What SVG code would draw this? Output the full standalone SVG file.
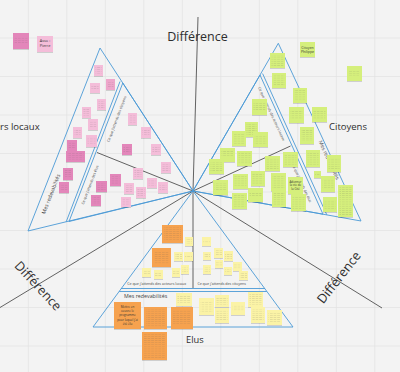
<svg xmlns="http://www.w3.org/2000/svg" width="400" height="372" viewBox="0 0 400 372">
<defs>
<pattern id="grid" x="27.8" y="37.5" width="38.5" height="38.5" patternUnits="userSpaceOnUse"><path d="M0 0.4H38.5M0.4 0V38.5" stroke="#e1e1e1" stroke-width="0.8" fill="none"/></pattern>
<pattern id="tx" width="3.6" height="2.1" patternUnits="userSpaceOnUse"><rect width="2.7" height="0.55" fill="#555"/></pattern>
<filter id="sh" x="-20%" y="-20%" width="140%" height="150%"><feDropShadow dx="0" dy="0.7" stdDeviation="0.6" flood-color="#000" flood-opacity="0.22"/></filter>
<style>
.bg{fill:#f3f3f3}
.ax{stroke:#3c3c3c;stroke-width:0.8;fill:none}
.bl{stroke:#4b9ad6;stroke-width:0.9;fill:none;stroke-linejoin:miter}
.big{font-family:"Open Sans","Liberation Sans",sans-serif;fill:#2e2e2e}
.sm{font-family:"Open Sans","Liberation Sans",sans-serif;fill:#444;font-size:3.6px;text-anchor:middle}
.nt{font-family:"Open Sans","Liberation Sans",sans-serif;fill:#333;text-anchor:middle}
.n rect:first-child{filter:url(#sh)}
.t{fill:url(#tx);opacity:0.2}
.pl rect:first-child{fill:#f4bdd9}
.pm rect:first-child{fill:#eea6cb}
.pd rect:first-child{fill:#e386ba}
.gr rect:first-child{fill:#d5ef7c}
.or rect:first-child{fill:#f6a24f}
.ye rect:first-child{fill:#fbf3a6}
</style>
</defs>
<rect class="bg" width="400" height="372"/>
<rect width="400" height="372" fill="url(#grid)"/>

<g id="connectors">
<path class="ax" d="M198 17L193 191L193 288"/>
<path class="ax" d="M193 191L0 307.5"/>
<path class="ax" d="M193 191L382 308"/>
<path class="ax" d="M97 152.5L193 191"/>
<path class="ax" d="M290.5 146L193 191"/>
</g>

<g id="triangle-acteurs">
<polygon class="bl" points="100,48 28,231 193,191"/>
<polygon class="bl" points="122.8,83 69,221.5 193,191"/>
<path class="bl" d="M120 81.5L66.2 221.8"/>
</g>
<g id="triangle-citoyens">
<polygon class="bl" points="278.3,43.3 193,191 361,221"/>
<polygon class="bl" points="260,75 193,191 323,214.2"/>
<path class="bl" d="M262.6 73.6L326.8 214.8"/>
</g>
<g id="triangle-elus">
<polygon class="bl" points="193,191 93,327 293,327"/>
<path class="bl" d="M121 288.5H265"/>
<path class="bl" d="M119.2 291.5H266.8"/>
</g>

<g id="labels">
<text class="big" x="197.5" y="41" font-size="12.5" text-anchor="middle">Différence</text>
<text class="big" transform="translate(38,286) rotate(47)" y="4.3" font-size="12.8" text-anchor="middle">Différence</text>
<text class="big" transform="translate(339,277.5) rotate(-52)" y="4.3" font-size="12.8" text-anchor="middle">Différence</text>
<text class="big" x="0" y="129.5" font-size="9.5">rs locaux</text>
<text class="big" x="329" y="129.5" font-size="9.5">Citoyens</text>
<text class="big" x="186" y="343" font-size="9.3">Elus</text>
<text class="sm" transform="translate(51,194) rotate(-69)" y="1.8" style="font-size:5.2px">Mes redevabilités</text>
<text class="sm" transform="translate(90,185) rotate(-69)" y="1.2">Ce que j'attends des élus</text>
<text class="sm" transform="translate(116.7,119) rotate(-69.5)" y="1.2">Ce que j'attends des citoyens</text>
<text class="sm" transform="translate(271.5,114) rotate(65)" y="1.2">Ce que j'attends des acteurs locaux</text>
<text class="sm" transform="translate(301.7,183.3) rotate(65)" y="1.2">Ce que j'attends des élus</text>
<text class="sm" transform="translate(329,160) rotate(65)" y="1.8" style="font-size:5.2px">Mes redevabilités</text>
<text class="sm" x="156.7" y="284.5">Ce que j'attends des acteurs locaux</text>
<text class="sm" x="221.7" y="284.5">Ce que j'attends des citoyens</text>
<text class="sm" x="124" y="297.5" style="font-size:5.3px;text-anchor:start">Mes redevabilités</text>
</g>

<g id="notes-acteurs">
<g id="p0" class="n pd"><rect x="13" y="33" width="16" height="16"/><rect class="t" x="14.5" y="37" width="13" height="6"/></g>
<g id="p-asso" class="n pl"><rect x="37" y="36" width="16" height="16"/><text class="nt" x="45" y="42" font-size="3.8">Asso :</text><text class="nt" x="45" y="47" font-size="3.8">Pierre</text></g>
<g id="p1" class="n pl"><rect x="94" y="65" width="9" height="11"/><rect class="t" x="95.5" y="67" width="6" height="7"/></g>
<g id="p2" class="n pl"><rect x="90" y="83" width="10" height="10"/><rect class="t" x="91.5" y="86" width="7" height="4"/></g>
<g id="p3" class="n pm"><rect x="106" y="79" width="9" height="11"/><rect class="t" x="107.5" y="81" width="6" height="7"/></g>
<g id="p4" class="n pl"><rect x="97" y="99" width="9" height="11"/><rect class="t" x="98.5" y="101" width="6" height="7"/></g>
<g id="p5" class="n pl"><rect x="82" y="107" width="9" height="11"/><rect class="t" x="83.5" y="109" width="6" height="7"/></g>
<g id="p6" class="n pl"><rect x="88" y="119" width="10" height="11"/><rect class="t" x="89.5" y="121" width="7" height="7"/></g>
<g id="p7" class="n pl"><rect x="73" y="127" width="9" height="11"/><rect class="t" x="74.5" y="129" width="6" height="7"/></g>
<g id="p8" class="n pl"><rect x="86" y="135" width="11" height="12"/><rect class="t" x="87.5" y="137" width="8" height="8"/></g>
<g id="p9" class="n pd"><rect x="67" y="140" width="10" height="11"/><rect class="t" x="68.5" y="142" width="7" height="7"/></g>
<g id="p10" class="n pd"><rect x="66" y="151" width="19" height="11"/><rect class="t" x="67.5" y="153" width="16" height="7"/></g>
<g id="p11" class="n pd"><rect x="63" y="168" width="10" height="12"/><rect class="t" x="64.5" y="170" width="7" height="8"/></g>
<g id="p12" class="n pd"><rect x="59" y="182" width="10" height="11"/><rect class="t" x="60.5" y="184" width="7" height="7"/></g>
<g id="p13" class="n pl"><rect x="128" y="113" width="9" height="12"/><rect class="t" x="129.5" y="115" width="6" height="8"/></g>
<g id="p14" class="n pl"><rect x="141" y="127" width="10" height="11"/><rect class="t" x="142.5" y="129" width="7" height="7"/></g>
<g id="p15" class="n pd"><rect x="122" y="144" width="10" height="11"/><rect class="t" x="123.5" y="146" width="7" height="7"/></g>
<g id="p16" class="n pl"><rect x="151" y="144" width="10" height="11"/><rect class="t" x="152.5" y="146" width="7" height="7"/></g>
<g id="p17" class="n pl"><rect x="161" y="162" width="10" height="11"/><rect class="t" x="162.5" y="164" width="7" height="7"/></g>
<g id="p18" class="n pl"><rect x="133" y="168" width="10" height="11"/><rect class="t" x="134.5" y="170" width="7" height="7"/></g>
<g id="p19" class="n pd"><rect x="110" y="174" width="11" height="12"/><rect class="t" x="111.5" y="176" width="8" height="8"/></g>
<g id="p20" class="n pd"><rect x="96" y="181" width="11" height="11"/><rect class="t" x="97.5" y="183" width="8" height="7"/></g>
<g id="p21" class="n pl"><rect x="147" y="178" width="10" height="10"/><rect class="t" x="148.5" y="180" width="7" height="6"/></g>
<g id="p22" class="n pl"><rect x="158" y="182" width="10" height="11"/><rect class="t" x="159.5" y="184" width="7" height="7"/></g>
<g id="p23" class="n pl"><rect x="124" y="183" width="10" height="11"/><rect class="t" x="125.5" y="185" width="7" height="7"/></g>
<g id="p24" class="n pl"><rect x="136" y="187" width="10" height="11"/><rect class="t" x="137.5" y="189" width="7" height="7"/></g>
<g id="p25" class="n pd"><rect x="91" y="195" width="10" height="11"/><rect class="t" x="92.5" y="197" width="7" height="7"/></g>
<g id="p26" class="n pl"><rect x="121" y="197" width="10" height="10"/><rect class="t" x="122.5" y="199" width="7" height="6"/></g>
</g>

<g id="notes-citoyens">
<g id="g-phil" class="n gr"><rect x="300" y="42" width="15" height="15"/><text class="nt" x="307.5" y="48.5" font-size="3.5">Citoyen</text><text class="nt" x="307.5" y="52.8" font-size="3.5">Philippe</text></g>
<g id="g0" class="n gr"><rect x="347" y="66" width="15" height="15"/><rect class="t" x="349" y="70" width="11" height="6"/></g>
<g id="g1" class="n gr"><rect x="270" y="53" width="15" height="15"/><rect class="t" x="271.5" y="55" width="12" height="11"/></g>
<g id="g2" class="n gr"><rect x="272" y="73" width="14" height="15"/><rect class="t" x="273.5" y="75" width="11" height="11"/></g>
<g id="g3" class="n gr"><rect x="293" y="88" width="14" height="15"/><rect class="t" x="294.5" y="90" width="11" height="11"/></g>
<g id="g4" class="n gr"><rect x="289" y="107" width="15" height="16"/><rect class="t" x="290.5" y="110" width="12" height="9"/></g>
<g id="g5" class="n gr"><rect x="312" y="107" width="15" height="15"/><rect class="t" x="313.5" y="110" width="12" height="9"/></g>
<g id="g6" class="n gr"><rect x="300" y="127" width="14" height="17"/><rect class="t" x="301.5" y="130" width="11" height="11"/></g>
<g id="g7" class="n gr"><rect x="306" y="150" width="14" height="17"/><rect class="t" x="307.5" y="152" width="11" height="13"/></g>
<g id="g8" class="n gr"><rect x="327" y="155" width="14" height="17"/><rect class="t" x="328.5" y="158" width="11" height="11"/></g>
<g id="g9" class="n gr"><rect x="314" y="171" width="7" height="7"/><rect class="t" x="315" y="173" width="5" height="3"/></g>
<g id="g10" class="n gr"><rect x="321" y="176" width="14" height="16"/><rect class="t" x="322.5" y="179" width="11" height="10"/></g>
<g id="g11" class="n gr"><rect x="323" y="197" width="14" height="15"/><rect class="t" x="324.5" y="200" width="11" height="9"/></g>
<g id="g12" class="n gr"><rect x="338" y="185" width="15" height="32"/><rect class="t" x="339.5" y="187" width="12" height="28"/></g>
<g id="g13" class="n gr"><rect x="252" y="99" width="15" height="16"/><rect class="t" x="253.5" y="102" width="12" height="9"/></g>
<g id="g14" class="n gr"><rect x="245" y="122" width="13" height="15"/><rect class="t" x="246.5" y="124" width="10" height="11"/></g>
<g id="g15" class="n gr"><rect x="232" y="131" width="14" height="15"/><rect class="t" x="233.5" y="133" width="11" height="11"/></g>
<g id="g16" class="n gr"><rect x="253" y="132" width="15" height="15"/><rect class="t" x="254.5" y="135" width="12" height="9"/></g>
<g id="g17" class="n gr"><rect x="220" y="148" width="15" height="14"/><rect class="t" x="221.5" y="151" width="12" height="6"/></g>
<g id="g18" class="n gr"><rect x="237" y="151" width="15" height="15"/><rect class="t" x="238.5" y="153" width="12" height="11"/></g>
<g id="g19" class="n gr"><rect x="209" y="159" width="15" height="15"/><rect class="t" x="210.5" y="162" width="12" height="9"/></g>
<g id="g20" class="n gr"><rect x="265" y="156" width="15" height="15"/><rect class="t" x="266.5" y="158" width="12" height="11"/></g>
<g id="g21" class="n gr"><rect x="283" y="152" width="15" height="15"/><rect class="t" x="284.5" y="154" width="12" height="11"/></g>
<g id="g22" class="n gr"><rect x="213" y="180" width="15" height="15"/><rect class="t" x="214.5" y="183" width="12" height="8"/></g>
<g id="g23" class="n gr"><rect x="233" y="174" width="15" height="15"/><rect class="t" x="234.5" y="176" width="12" height="11"/></g>
<g id="g24" class="n gr"><rect x="251" y="171" width="14" height="15"/><rect class="t" x="252.5" y="173" width="11" height="11"/></g>
<g id="g25" class="n gr"><rect x="248" y="188" width="15" height="14"/><rect class="t" x="249.5" y="193" width="12" height="3"/></g>
<g id="g26" class="n gr"><rect x="232" y="193" width="15" height="16"/><rect class="t" x="233.5" y="195" width="12" height="12"/></g>
<g id="g27" class="n gr"><rect x="271" y="173" width="15" height="18"/><rect class="t" x="272.5" y="175" width="12" height="14"/></g>
<g id="g28" class="n gr"><rect x="272" y="191" width="14" height="16"/><rect class="t" x="273.5" y="193" width="11" height="12"/></g>
<g id="g29" class="n gr"><rect x="288" y="177" width="15" height="17"/><text class="nt" x="295.5" y="182.5" font-size="3">Adonner</text><text class="nt" x="295.5" y="186.3" font-size="3">la vie de</text><text class="nt" x="295.5" y="190.1" font-size="3">la Cité</text></g>
<g id="g30" class="n gr"><rect x="291" y="194" width="15" height="17"/><rect class="t" x="292.5" y="196" width="12" height="13"/></g>
</g>

<g id="notes-elus">
<g id="o1" class="n or"><rect x="162" y="225" width="21" height="18"/><rect class="t" x="164" y="227" width="17" height="14"/></g>
<g id="o2" class="n or"><rect x="152" y="248" width="19" height="19"/><rect class="t" x="154" y="251" width="15" height="13"/></g>
<g id="o3" class="n or"><rect x="114" y="302" width="27" height="27"/><text class="nt" x="127.5" y="308" font-size="3">Mettre en</text><text class="nt" x="127.5" y="312.2" font-size="3">oeuvre le</text><text class="nt" x="127.5" y="316.4" font-size="3">programme</text><text class="nt" x="127.5" y="320.6" font-size="3">pour lequel j'ai</text><text class="nt" x="127.5" y="324.8" font-size="3">été élu</text></g>
<g id="o4" class="n or"><rect x="144" y="307" width="23" height="22"/><rect class="t" x="146" y="309" width="19" height="18"/></g>
<g id="o5" class="n or"><rect x="171" y="307" width="22" height="22"/><rect class="t" x="173" y="310" width="18" height="14"/></g>
<g id="o6" class="n or"><rect x="142" y="332" width="25" height="28"/><rect class="t" x="144" y="334" width="21" height="24"/></g>
<g id="y7" class="n ye"><rect x="185" y="237" width="8" height="9"/><rect class="t" x="186" y="239" width="6" height="5"/></g>
<g id="y8" class="n ye"><rect x="174" y="252" width="9" height="9"/><rect class="t" x="175" y="254" width="7" height="5"/></g>
<g id="y9" class="n ye"><rect x="184" y="252" width="9" height="9"/><rect class="t" x="185" y="255" width="7" height="3"/></g>
<g id="y10" class="n ye"><rect x="142" y="268" width="9" height="9"/><rect class="t" x="143" y="270" width="7" height="5"/></g>
<g id="y11" class="n ye"><rect x="154" y="270" width="9" height="9"/><rect class="t" x="155" y="273" width="7" height="3"/></g>
<g id="y12" class="n ye"><rect x="172" y="268" width="8" height="9"/><rect class="t" x="173" y="271" width="6" height="3"/></g>
<g id="y13" class="n ye"><rect x="181" y="265" width="8" height="9"/><rect class="t" x="182" y="267" width="6" height="5"/></g>
<g id="y14" class="n ye"><rect x="202" y="237" width="9" height="9"/><rect class="t" x="203" y="240" width="7" height="3"/></g>
<g id="y15" class="n ye"><rect x="203" y="252" width="8" height="8"/><rect class="t" x="204" y="254" width="6" height="4"/></g>
<g id="y16" class="n ye"><rect x="214" y="248" width="9" height="10"/><rect class="t" x="215" y="250" width="7" height="6"/></g>
<g id="y17" class="n ye"><rect x="224" y="251" width="9" height="10"/><rect class="t" x="225" y="253" width="7" height="6"/></g>
<g id="y18" class="n ye"><rect x="215" y="260" width="8" height="8"/><rect class="t" x="216" y="262" width="6" height="4"/></g>
<g id="y19" class="n ye"><rect x="203" y="265" width="8" height="9"/><rect class="t" x="204" y="267" width="6" height="5"/></g>
<g id="y20" class="n ye"><rect x="224" y="267" width="8" height="8"/><rect class="t" x="225" y="269" width="6" height="4"/></g>
<g id="y21" class="n ye"><rect x="233" y="262" width="9" height="9"/><rect class="t" x="234" y="264" width="7" height="5"/></g>
<g id="y22" class="n ye"><rect x="239" y="271" width="9" height="9"/><rect class="t" x="240" y="273" width="7" height="5"/></g>
<g id="y23" class="n ye"><rect x="176" y="293" width="16" height="13"/><rect class="t" x="177.5" y="295" width="13" height="9"/></g>
<g id="y24" class="n ye"><rect x="199" y="298" width="15" height="17"/><rect class="t" x="200.5" y="301" width="12" height="11"/></g>
<g id="y25" class="n ye"><rect x="215" y="295" width="14" height="12"/><rect class="t" x="216.5" y="297" width="11" height="8"/></g>
<g id="y26" class="n ye"><rect x="215" y="308" width="14" height="15"/><rect class="t" x="216.5" y="310" width="11" height="11"/></g>
<g id="y27" class="n ye"><rect x="231" y="302" width="14" height="13"/><rect class="t" x="232.5" y="305" width="11" height="6"/></g>
<g id="y28" class="n ye"><rect x="248" y="292" width="15" height="15"/><rect class="t" x="249.5" y="294" width="12" height="11"/></g>
<g id="y29" class="n ye"><rect x="251" y="307" width="14" height="16"/><rect class="t" x="252.5" y="309" width="11" height="12"/></g>
<g id="y30" class="n ye"><rect x="267" y="310" width="15" height="15"/><rect class="t" x="268.5" y="313" width="12" height="9"/></g>
</g>
</svg>
